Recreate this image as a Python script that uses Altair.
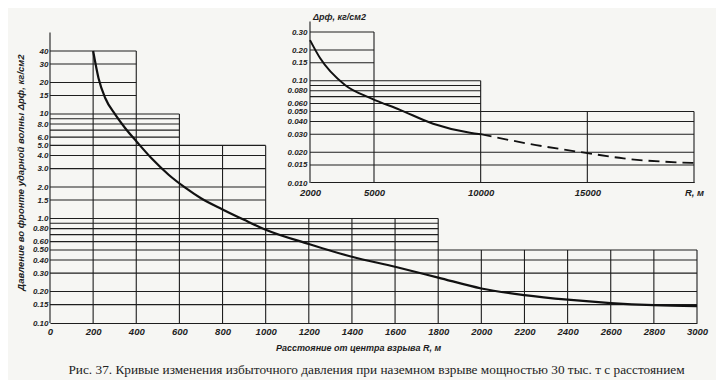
import altair as alt
import pandas as pd

# ---------------- data ----------------
# main curve: overpressure (kg/cm2) vs distance R (m)
main_R = [200, 225, 256, 302, 349, 403, 473, 550, 627, 700, 800, 900, 1000,
          1200, 1400, 1600, 1800, 2000, 2200, 2400, 2600, 2800, 3000]
main_P = [40, 22, 14.2, 9.9, 7.3, 5.4, 3.72, 2.62, 1.97, 1.56, 1.22, 0.97, 0.78,
          0.57, 0.43, 0.345, 0.272, 0.214, 0.185, 0.167, 0.155, 0.148, 0.145]

# inset curve (solid part and dashed extrapolation)
ins_R = [2000, 2470, 3640, 4890, 6220, 7770, 9500, 10000]
ins_P = [0.25, 0.167, 0.091, 0.067, 0.052, 0.038, 0.031, 0.030]
ins_dash_R = [10000, 12600, 15000, 16700, 20000]
ins_dash_P = [0.030, 0.0235, 0.0196, 0.0174, 0.0157]

# ticks
main_x_ticks = [0, 200, 400, 600, 800, 1000, 1200, 1400, 1600, 1800, 2000,
                2200, 2400, 2600, 2800, 3000]
main_y_ticks = [0.1, 0.15, 0.2, 0.3, 0.4, 0.5, 0.6, 0.8, 1, 1.5, 2, 3, 4, 5,
                6, 8, 10, 15, 20, 30, 40]
ins_x_ticks = [2000, 5000, 10000, 15000, 20000]
ins_y_ticks = [0.01, 0.015, 0.02, 0.03, 0.04, 0.05, 0.06, 0.08, 0.1, 0.15,
               0.2, 0.3]

# staircase grid of the main chart
main_grid_groups = [[40, 30, 20, 15], [10, 9, 8, 7, 6], [5, 4, 3, 2, 1.5],
                    [1.0, 0.9, 0.8, 0.7, 0.6], [0.5, 0.4, 0.3, 0.2, 0.15]]
main_grid_ends = [400, 600, 1000, 1800, 3000]
main_vert_x = [0, 200, 400, 600, 800, 1000, 1200, 1400, 1600, 1800, 2000,
               2200, 2400, 2600, 2800, 3000]
main_vert_top = [60, 40, 40, 10, 5, 5, 1, 1, 1, 1, 0.5, 0.5, 0.5, 0.5, 0.5, 0.5]

# staircase grid of the inset
ins_grid_groups = [[0.3, 0.2, 0.15], [0.1, 0.09, 0.08, 0.07, 0.06],
                   [0.05, 0.04, 0.03, 0.02, 0.015]]
ins_grid_ends = [5000, 10000, 20000]
ins_vert_x = [2000, 5000, 10000, 15000, 20000]
ins_vert_top = [0.38, 0.3, 0.1, 0.05, 0.05]

caption = ("Рис. 37. Кривые изменения избыточного давления при наземном взрыве  "
           "мощностью 30 тыс. т с расстоянием")
x_title = "Расстояние от центра взрыва R, м"
y_title = "Давление во фронте ударной волны Δpф, кг/см2"
ins_label = "Δpф, кг/см2"

# ---------------- tables ----------------
h_main = pd.DataFrame([{"v": v, "x0": 0, "x1": e}
                       for vals, e in zip(main_grid_groups, main_grid_ends) for v in vals])
v_main = pd.DataFrame({"x": main_vert_x, "y0": [0.1] * len(main_vert_x), "y1": main_vert_top})
c_main = pd.DataFrame({"R": main_R, "P": main_P})

h_ins = pd.DataFrame([{"v": v, "x0": 2000, "x1": e}
                      for vals, e in zip(ins_grid_groups, ins_grid_ends) for v in vals])
v_ins = pd.DataFrame({"x": ins_vert_x, "y0": [0.01] * len(ins_vert_x), "y1": ins_vert_top})
c_ins = pd.DataFrame({"R": ins_R, "P": ins_P})
c_ins_d = pd.DataFrame({"R": ins_dash_R, "P": ins_dash_P})
t_ins = pd.DataFrame({"R": [2000], "P": [0.42], "t": [ins_label]})

INK = "#1e1e1e"
FONT = "Liberation Sans"

# ---------------- scales / axes ----------------
XM = alt.Scale(domain=[0, 3000], nice=False, zero=False)
YM = alt.Scale(type="log", domain=[0.1, 40], nice=False)
XI = alt.Scale(domain=[2000, 20000], range=[260, 644], nice=False, zero=False)
YI = alt.Scale(type="log", domain=[0.01, 0.3], range=[132, -19], nice=False)

lab = dict(labelFont=FONT, labelFontStyle="italic", labelFontWeight="bold",
           labelColor=INK, ticks=False, tickSize=0, grid=False, labelFlush=False)

ax_xm = alt.Axis(values=main_x_ticks, format="d", labelFontSize=9.5, labelPadding=3,
                 domain=True, domainColor=INK, domainWidth=1.2, labelOverlap=False,
                 title=x_title, titleFont=FONT, titleFontSize=9, titleFontStyle="italic",
                 titleFontWeight="bold", titleColor=INK, titleX=308, titleY=24,
                 titleBaseline="middle", **lab)
ax_ym = alt.Axis(values=main_y_ticks, labelFontSize=8, labelPadding=2, domain=False,
                 labelOverlap=False,
                 labelExpr="datum.value >= 10 ? format(datum.value, 'd') : datum.value >= 1 ? format(datum.value, '.1f') : format(datum.value, '.2f')",
                 title=y_title, titleFont=FONT, titleFontSize=9.5, titleFontStyle="italic",
                 titleFontWeight="bold", titleColor=INK, titleX=-30, titleY=121,
                 titleBaseline="middle", titleAngle=270, **lab)
ax_xi = alt.Axis(values=ins_x_ticks, orient="bottom", offset=-141, labelFontSize=9.5,
                 labelPadding=5, domain=True, domainColor=INK, domainWidth=1.2,
                 labelOverlap=False,
                 labelExpr="datum.value == 20000 ? 'R, м' : format(datum.value, 'd')",
                 title=None, **lab)
ax_yi = alt.Axis(values=ins_y_ticks, orient="left", offset=-260, labelFontSize=8,
                 labelPadding=3, domain=False, labelOverlap=False,
                 labelExpr="datum.value >= 0.1 ? format(datum.value, '.2f') : format(datum.value, '.3f')",
                 title=None, **lab)

# ---------------- main chart ----------------
m_h = alt.Chart(h_main).mark_rule(color=INK, strokeWidth=1.1).encode(
    x=alt.X("x0:Q", scale=XM, axis=ax_xm), x2="x1:Q",
    y=alt.Y("v:Q", scale=YM, axis=ax_ym))
m_v = alt.Chart(v_main).mark_rule(color=INK, strokeWidth=1.1).encode(
    x=alt.X("x:Q", scale=XM, axis=ax_xm),
    y=alt.Y("y0:Q", scale=YM, axis=ax_ym), y2="y1:Q")
m_c = alt.Chart(c_main).mark_line(color="#111", strokeWidth=2.2, interpolate="monotone").encode(
    x=alt.X("R:Q", scale=XM, axis=ax_xm),
    y=alt.Y("P:Q", scale=YM, axis=ax_ym))
main = alt.layer(m_h, m_v, m_c)

# ---------------- inset ----------------
i_h = alt.Chart(h_ins).mark_rule(color=INK, strokeWidth=1.1).encode(
    x=alt.X("x0:Q", scale=XI, axis=ax_xi), x2="x1:Q",
    y=alt.Y("v:Q", scale=YI, axis=ax_yi))
i_v = alt.Chart(v_ins).mark_rule(color=INK, strokeWidth=1.1).encode(
    x=alt.X("x:Q", scale=XI, axis=ax_xi),
    y=alt.Y("y0:Q", scale=YI, axis=ax_yi), y2="y1:Q")
i_c = alt.Chart(c_ins).mark_line(color="#111", strokeWidth=2, interpolate="monotone").encode(
    x=alt.X("R:Q", scale=XI, axis=ax_xi),
    y=alt.Y("P:Q", scale=YI, axis=ax_yi))
i_d = alt.Chart(c_ins_d).mark_line(color="#111", strokeWidth=1.8, strokeDash=[11, 6],
                                   interpolate="monotone").encode(
    x=alt.X("R:Q", scale=XI, axis=ax_xi),
    y=alt.Y("P:Q", scale=YI, axis=ax_yi))
i_t = alt.Chart(t_ins).mark_text(align="left", baseline="middle", dx=3, font=FONT,
                                 fontSize=9, fontStyle="italic", fontWeight="bold",
                                 color=INK).encode(
    x=alt.X("R:Q", scale=XI, axis=ax_xi),
    y=alt.Y("P:Q", scale=YI, axis=ax_yi), text="t:N")
inset = alt.layer(i_h, i_v, i_c, i_d, i_t)

chart = alt.layer(main, inset).resolve_scale(
    x="independent", y="independent"
).properties(
    width=647, height=272,
    padding={"left": 42, "top": 43, "right": 19, "bottom": 57},
    autosize=alt.AutoSizeParams(type="none"),
    background="#f6f6f3",
    title=alt.TitleParams(caption, orient="bottom", anchor="middle", frame="group",
                          font="Liberation Serif", fontSize=13.3, fontWeight="normal",
                          color="#222", offset=11, dx=3),
).configure_view(stroke=None)

chart.save("out.html", embed_options={"renderer": "svg", "actions": False})
